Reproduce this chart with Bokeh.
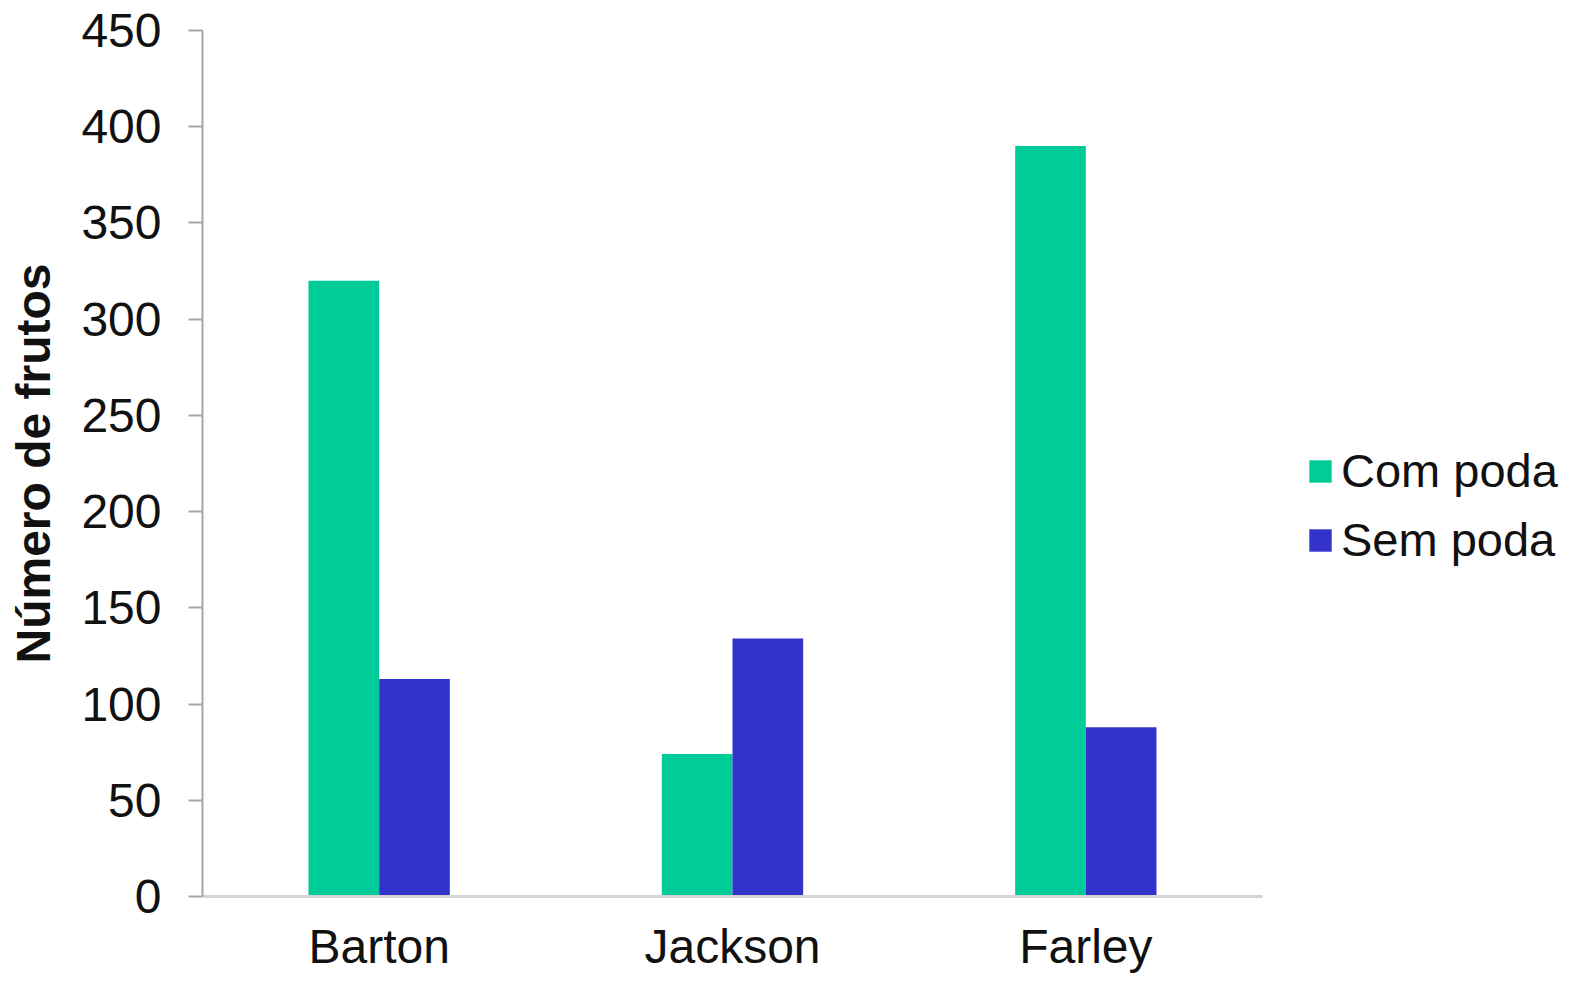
from bokeh.plotting import figure
from bokeh.models import ColumnDataSource, Range1d, FixedTicker, Legend, LegendItem, BoxAnnotation
from bokeh.layouts import row
from bokeh.transform import dodge
from bokeh.embed import file_html
from bokeh.resources import INLINE

categories = ["Barton", "Jackson", "Farley"]
com_poda = [320, 74, 390]
sem_poda = [113, 134, 88]
series_names = ["Com poda", "Sem poda"]
y_ticks = [0, 50, 100, 150, 200, 250, 300, 350, 400, 450]

FONT = "Liberation Sans"
GREEN = "#00CC99"
BLUE = "#3333CC"
TEXT = "#111111"

src = ColumnDataSource(dict(cat=categories, com=com_poda, sem=sem_poda))

p = figure(x_range=categories, y_range=Range1d(0, 450),
           width=1270, height=977, output_backend="svg", toolbar_location=None,
           min_border_left=202, min_border_right=8, min_border_top=30, min_border_bottom=81)
p.outline_line_color = None
p.xgrid.grid_line_color = None
p.ygrid.grid_line_color = None
p.background_fill_color = "white"
p.border_fill_color = "white"

r1 = p.vbar(x=dodge("cat", -0.1, range=p.x_range), top="com", width=0.2, source=src,
            fill_color=GREEN, line_color=None)
r2 = p.vbar(x=dodge("cat", 0.1, range=p.x_range), top="sem", width=0.2, source=src,
            fill_color=BLUE, line_color=None)

# y axis
ya = p.yaxis[0]
ya.ticker = FixedTicker(ticks=y_ticks)
ya.minor_tick_line_color = None
ya.major_tick_in = 0
ya.major_tick_out = 14
ya.major_tick_line_color = "#a6a6a6"
ya.major_tick_line_width = 2
ya.axis_line_color = "#a6a6a6"
ya.axis_line_width = 2
ya.major_label_text_font = FONT
ya.major_label_text_font_size = "48px"
ya.major_label_text_color = TEXT
ya.major_label_standoff = 27
ya.axis_label = "Número de frutos"
ya.axis_label_text_font = FONT
ya.axis_label_text_font_style = "bold"
ya.axis_label_text_font_size = "48px"
ya.axis_label_text_color = TEXT
ya.axis_label_standoff = 18

# x axis
xa = p.xaxis[0]
xa.major_tick_line_color = None
xa.minor_tick_line_color = None
xa.major_tick_in = 0
xa.major_tick_out = 0
xa.axis_line_color = "#d4d4d4"
xa.axis_line_width = 3
xa.major_label_text_font = FONT
xa.major_label_text_font_size = "48px"
xa.major_label_text_color = TEXT
xa.major_label_standoff = 23

# legend panel: a separate figure so the legend is not clipped by the plot frame.
# Its renderers use the same series (zero height), covered by a white box.
pl = figure(x_range=p.x_range, y_range=Range1d(0, 450),
            width=290, height=977, output_backend="svg", toolbar_location=None,
            x_axis_location=None, y_axis_location=None,
            min_border_left=0, min_border_right=0, min_border_top=0, min_border_bottom=0)
pl.outline_line_color = None
pl.xgrid.grid_line_color = None
pl.ygrid.grid_line_color = None
lg1 = pl.vbar(x=dodge("cat", -0.1, range=p.x_range), top="com", bottom="com", width=0.2,
              source=src, fill_color=GREEN, line_color=None)
lg2 = pl.vbar(x=dodge("cat", 0.1, range=p.x_range), top="sem", bottom="sem", width=0.2,
              source=src, fill_color=BLUE, line_color=None)
pl.add_layout(BoxAnnotation(fill_color="white", fill_alpha=1.0, line_color=None))

legend = Legend(items=[LegendItem(label=series_names[0], renderers=[lg1]),
                       LegendItem(label=series_names[1], renderers=[lg2])],
                location=(36, 329), orientation="vertical",
                glyph_width=28, glyph_height=28, label_standoff=7, spacing=14,
                padding=0, margin=0, border_line_color=None, background_fill_alpha=0,
                label_text_font=FONT, label_text_font_size="47px", label_text_color=TEXT)
pl.add_layout(legend, "center")

layout = row(p, pl)
open("out.html", "w").write(file_html(layout, INLINE))
